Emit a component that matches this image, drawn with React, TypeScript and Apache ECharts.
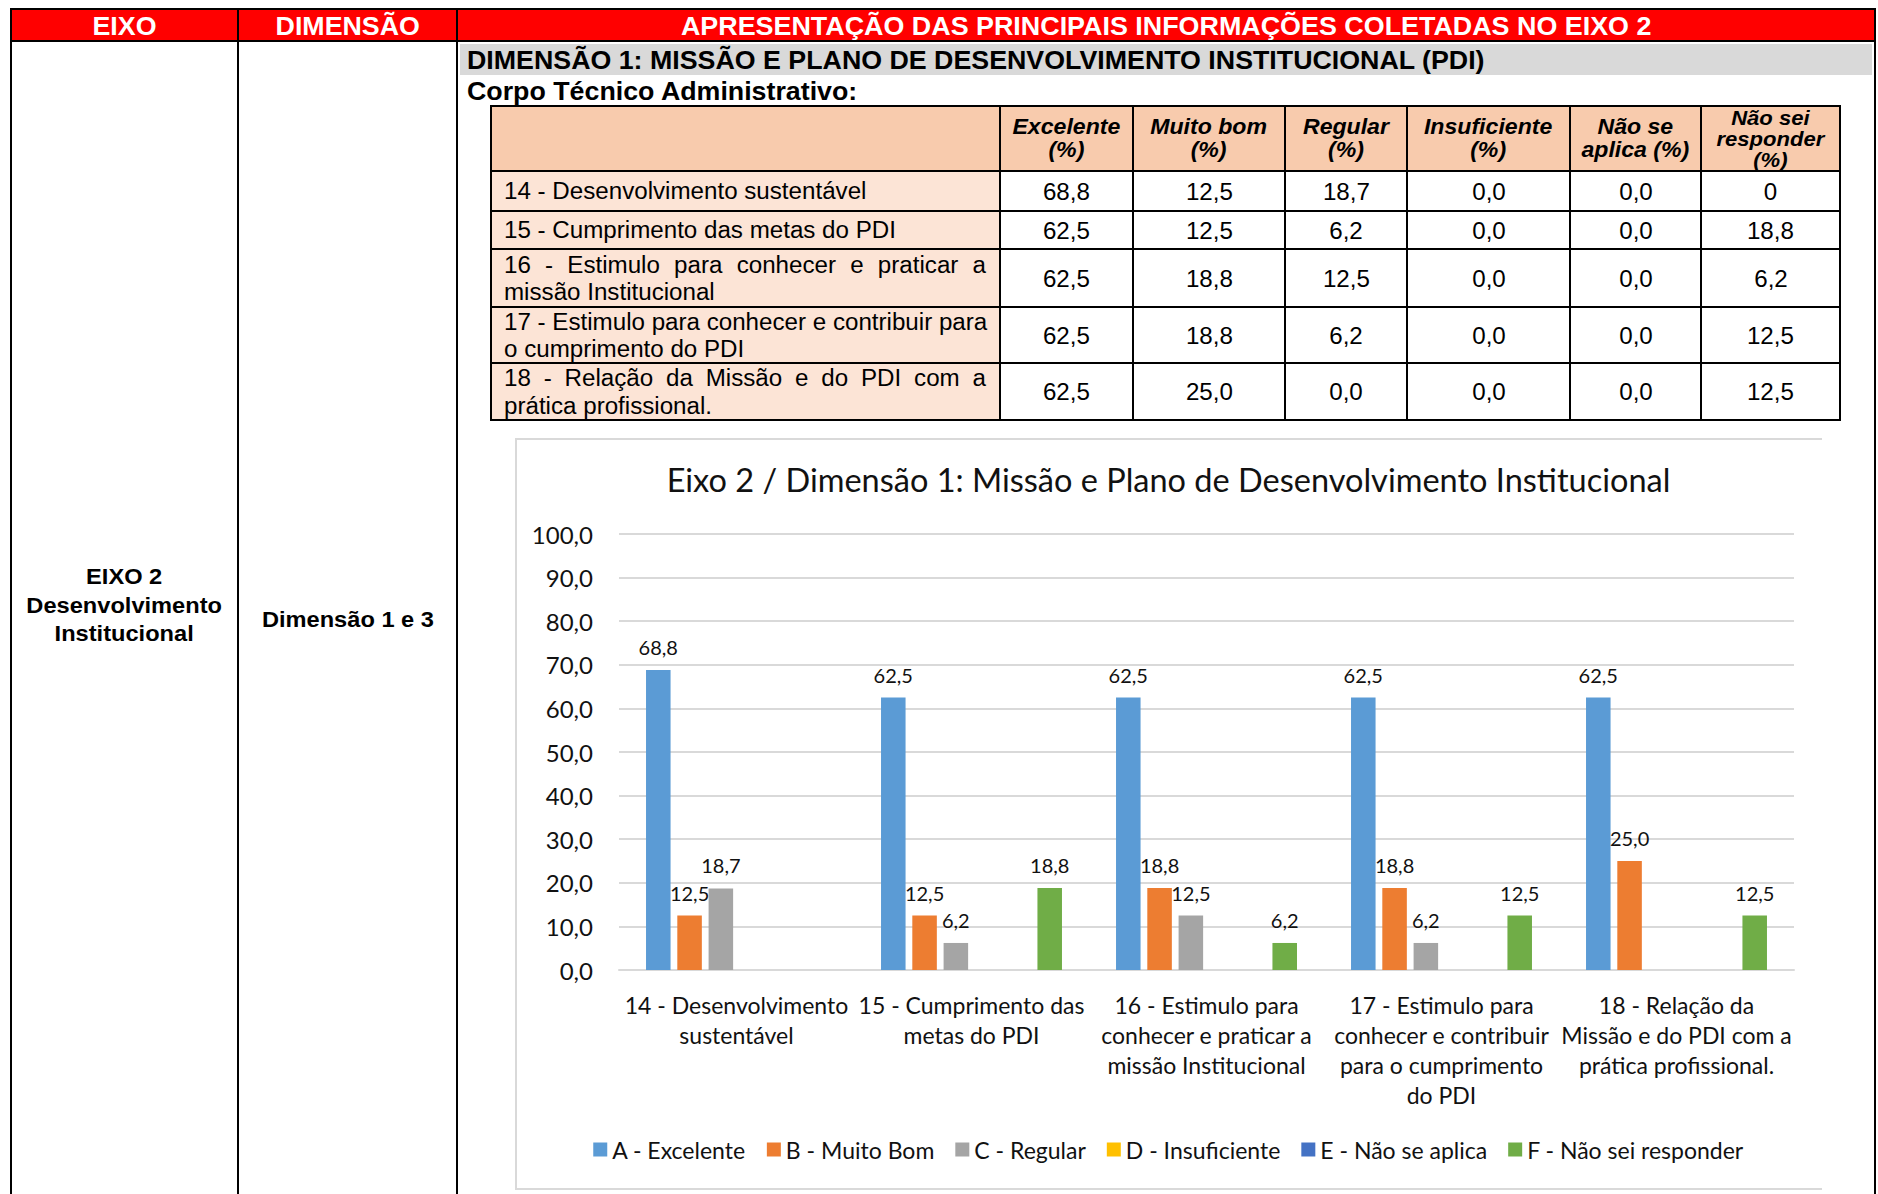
import React, { useEffect, useRef } from 'react';
import * as echarts from 'echarts';

// ---------- DATA ----------
const headerTitles = ['EIXO', 'DIMENSÃO', 'APRESENTAÇÃO DAS PRINCIPAIS INFORMAÇÕES COLETADAS NO EIXO 2'];
const eixoLines = ['EIXO 2', 'Desenvolvimento', 'Institucional'];
const dimensaoText = 'Dimensão 1 e 3';
const bandTitle = 'DIMENSÃO 1: MISSÃO E PLANO DE DESENVOLVIMENTO INSTITUCIONAL (PDI)';
const groupTitle = 'Corpo Técnico Administrativo:';

const tableHeaders = [
  ['Excelente', '(%)'],
  ['Muito bom', '(%)'],
  ['Regular', '(%)'],
  ['Insuficiente', '(%)'],
  ['Não se', 'aplica (%)'],
  ['Não sei', 'responder', '(%)'],
];
const tableRowLines = [
  ['14 - Desenvolvimento sustentável'],
  ['15 - Cumprimento das metas do PDI'],
  ['16 - Estimulo para conhecer e praticar a', 'missão Institucional'],
  ['17 - Estimulo para conhecer e contribuir para', 'o cumprimento do PDI'],
  ['18 - Relação da Missão e do PDI com a', 'prática profissional.'],
];
const tableRow14 = ['68,8', '12,5', '18,7', '0,0', '0,0', '0'];
const tableRow15 = ['62,5', '12,5', '6,2', '0,0', '0,0', '18,8'];
const tableRow16 = ['62,5', '18,8', '12,5', '0,0', '0,0', '6,2'];
const tableRow17 = ['62,5', '18,8', '6,2', '0,0', '0,0', '12,5'];
const tableRow18 = ['62,5', '25,0', '0,0', '0,0', '0,0', '12,5'];
const tableValues = [tableRow14, tableRow15, tableRow16, tableRow17, tableRow18];

const chartTitle = 'Eixo 2 / Dimensão 1: Missão e Plano de Desenvolvimento Institucional';
const categories = [
  '14 - Desenvolvimento\nsustentável',
  '15 - Cumprimento das\nmetas do PDI',
  '16 - Estimulo para\nconhecer e praticar a\nmissão Institucional',
  '17 - Estimulo para\nconhecer e contribuir\npara o cumprimento\ndo PDI',
  '18 - Relação da\nMissão e do PDI com a\nprática profissional.',
];
const seriesNames = [
  'A - Excelente',
  'B - Muito Bom',
  'C - Regular',
  'D - Insuficiente',
  'E - Não se aplica',
  'F - Não sei responder',
];
const excelente = [68.8, 62.5, 62.5, 62.5, 62.5];
const muitoBom = [12.5, 12.5, 18.8, 18.8, 25.0];
const regular = [18.7, 6.2, 12.5, 6.2, 0.0];
const insuficiente = [0.0, 0.0, 0.0, 0.0, 0.0];
const naoSeAplica = [0.0, 0.0, 0.0, 0.0, 0.0];
const naoSeiResponder = [0.0, 18.8, 6.2, 12.5, 12.5];
const seriesColors = ['#5B9BD5', '#ED7D31', '#A5A5A5', '#FFC000', '#4472C4', '#70AD47'];
const yMin = 0;
const yMax = 100;
const yStep = 10;

// ---------- LAYOUT HELPERS ----------
const TF = '"Liberation Sans", Arial, Helvetica, sans-serif';
const CF = 'Lato, "Open Sans", "Noto Sans", sans-serif';
const SX = 1.05;

type BoxP = { x: number; y: number; w: number; h: number; bg: string };
const Rect = ({ x, y, w, h, bg }: BoxP) => (
  <div style={{ position: 'absolute', left: x, top: y, width: w, height: h, background: bg }} />
);

type TP = {
  x: number; y: number; w: number; h: number; lines: string[];
  font: string; lh: number; color?: string;
};
const CText = ({ x, y, w, h, lines, font, lh, color = '#000' }: TP) => (
  <div style={{ position: 'absolute', left: x, top: y, width: w, height: h, display: 'flex', alignItems: 'center', justifyContent: 'center' }}>
    <div style={{ transform: `scaleX(${SX})`, textAlign: 'center', font, lineHeight: `${lh}px`, color, whiteSpace: 'nowrap' }}>
      {lines.map((l, i) => <div key={i}>{l}</div>)}
    </div>
  </div>
);
const LText = ({ x, y, w, h, lines, font, lh, color = '#000' }: TP) => (
  <div style={{ position: 'absolute', left: x, top: y, width: w, height: h, display: 'flex', alignItems: 'center' }}>
    <div style={{ width: w / SX, transform: `scaleX(${SX})`, transformOrigin: 'left center', font, lineHeight: `${lh}px`, color }}>
      {lines.map((l, i) => {
        const just = lines.length > 1 && i === 0;
        return (
          <div key={i} style={{ whiteSpace: 'nowrap', textAlign: just ? 'justify' : 'left', textAlignLast: just ? 'justify' : 'left' } as React.CSSProperties}>{l}</div>
        );
      })}
    </div>
  </div>
);

// ---------- CHART ----------
const Chart = () => {
  const ref = useRef<HTMLDivElement>(null);
  useEffect(() => {
    if (!ref.current) return;
    const chart = echarts.init(ref.current, undefined, { renderer: 'svg' });
    const fmt = (v: number) => v.toFixed(1).replace('.', ',');
    const seriesData = [excelente, muitoBom, regular, insuficiente, naoSeAplica, naoSeiResponder];
    chart.setOption({
      animation: false,
      color: seriesColors,
      title: {
        text: chartTitle, left: 'center', top: 25, padding: 0,
        textStyle: { fontFamily: CF, fontSize: 32.5, fontWeight: 'normal', color: '#111' },
      },
      legend: {
        data: seriesNames, left: 'center', top: 700, padding: 0,
        itemWidth: 14, itemHeight: 14, itemGap: 21, icon: 'rect',
        textStyle: { fontFamily: CF, fontSize: 23, color: '#111' },
      },
      grid: { left: 104, right: 28, top: 96, bottom: 220, containLabel: false },
      xAxis: {
        type: 'category', data: categories,
        axisTick: { show: false },
        axisLine: { lineStyle: { color: '#d9d9d9', width: 2 } },
        axisLabel: { interval: 0, margin: 20, fontFamily: CF, fontSize: 23, lineHeight: 30, color: '#111' },
      },
      yAxis: {
        type: 'value', min: yMin, max: yMax, interval: yStep,
        axisLine: { show: false }, axisTick: { show: false },
        axisLabel: { formatter: (v: number) => fmt(v), margin: 26, fontFamily: CF, fontSize: 24, color: '#111' },
        splitLine: { lineStyle: { color: '#d9d9d9', width: 2 } },
      },
      series: seriesNames.map((name, i) => ({
        name, type: 'bar', data: seriesData[i],
        barGap: '27.5%', barCategoryGap: '23%',
        label: {
          show: true, position: 'top', distance: 13,
          formatter: (p: any) => (p.value > 0 ? fmt(p.value) : ''),
          fontFamily: CF, fontSize: 20, color: '#111',
        },
      })),
    });
    return () => chart.dispose();
  }, []);
  return <div ref={ref} style={{ position: 'absolute', left: 515, top: 438, width: 1307, height: 752 }} />;
};

// ---------- PAGE ----------
export default function App() {
  const colX = [490, 999, 1132, 1284, 1406, 1569, 1700, 1839];
  const rowY = [105, 170, 210, 248, 306, 362, 419];
  const LW = 2;
  const bold = (s: number) => `bold ${s}px ${TF}`;
  const boldIt = (s: number) => `italic bold ${s}px ${TF}`;
  const reg = (s: number) => `${s}px ${TF}`;

  return (
    <div style={{ position: 'absolute', left: 0, top: 0, width: 1878, height: 1194, background: '#fff', overflow: 'hidden' }}>
      {/* header band */}
      <Rect x={10} y={10} w={1866} h={30} bg="#FF0000" />
      {/* grey band */}
      <Rect x={460} y={44} w={1412} h={31} bg="#D9D9D9" />
      {/* inner table fills */}
      <Rect x={colX[0]} y={rowY[0]} w={colX[7] - colX[0]} h={rowY[1] - rowY[0]} bg="#F8CBAD" />
      <Rect x={colX[0]} y={rowY[1]} w={colX[1] - colX[0]} h={rowY[6] - rowY[1]} bg="#FCE4D6" />

      {/* outer lines */}
      <Rect x={10} y={8} w={1866} h={LW} bg="#000" />
      <Rect x={10} y={40} w={1866} h={LW} bg="#000" />
      {[10, 237, 456, 1874].map((x) => <Rect key={'v' + x} x={x} y={8} w={LW} h={1186} bg="#000" />)}

      {/* inner table lines */}
      {rowY.map((y) => <Rect key={'r' + y} x={colX[0]} y={y} w={colX[7] - colX[0] + LW} h={LW} bg="#000" />)}
      {colX.map((x) => <Rect key={'c' + x} x={x} y={rowY[0]} w={LW} h={rowY[6] - rowY[0] + LW} bg="#000" />)}

      {/* header texts */}
      <CText x={12} y={10} w={225} h={31} lines={[headerTitles[0]]} font={bold(25.5)} lh={30} color="#fff" />
      <CText x={239} y={10} w={217} h={31} lines={[headerTitles[1]]} font={bold(25.5)} lh={30} color="#fff" />
      <CText x={458} y={10} w={1416} h={31} lines={[headerTitles[2]]} font={bold(25.6)} lh={30} color="#fff" />

      {/* left columns */}
      <CText x={12} y={540} w={225} h={132} lines={eixoLines} font={bold(22.5)} lh={28.5} />
      <CText x={239} y={591} w={217} h={58} lines={[dimensaoText]} font={bold(22.5)} lh={28} />

      {/* band + group title */}
      <LText x={467} y={44} w={1300} h={32} lines={[bandTitle]} font={bold(25.5)} lh={30} />
      <LText x={467} y={77} w={800} h={29} lines={[groupTitle]} font={bold(25.5)} lh={29} />

      {/* table header */}
      {tableHeaders.map((lines, i) => (
        <CText key={'h' + i} x={colX[i + 1] + LW} y={rowY[0] + LW} w={colX[i + 2] - colX[i + 1] - LW} h={rowY[1] - rowY[0] - LW}
          lines={lines} font={boldIt(lines.length > 2 ? 21 : 22)} lh={lines.length > 2 ? 21 : 22.5} />
      ))}

      {/* table rows */}
      {tableRowLines.map((lines, r) => (
        <React.Fragment key={'row' + r}>
          <LText x={504} y={rowY[r + 1] + LW + 1} w={482} h={rowY[r + 2] - rowY[r + 1] - LW} lines={lines} font={reg(23)} lh={27.5} />
          {tableValues[r].map((v, c) => (
            <CText key={'v' + c} x={colX[c + 1] + LW} y={rowY[r + 1] + LW + 1} w={colX[c + 2] - colX[c + 1] - LW} h={rowY[r + 2] - rowY[r + 1] - LW}
              lines={[v]} font={reg(23)} lh={27} />
          ))}
        </React.Fragment>
      ))}

      {/* chart */}
      <Chart />
      {/* chart frame */}
      <Rect x={515} y={438} w={1307} h={2} bg="#D9D9D9" />
      <Rect x={515} y={438} w={2} h={752} bg="#D9D9D9" />
      <Rect x={515} y={1188} w={1307} h={2} bg="#D9D9D9" />
    </div>
  );
}
